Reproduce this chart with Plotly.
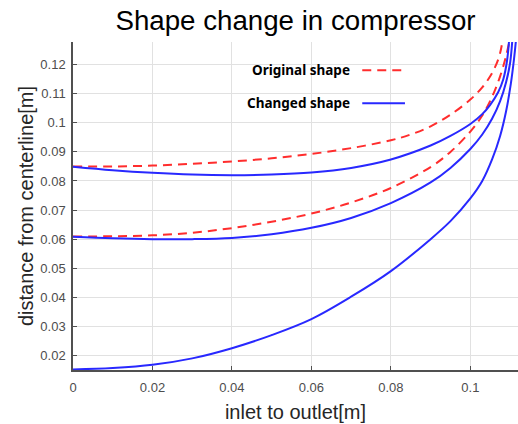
import plotly.graph_objects as go

# ---- data ----
orig_outer_x = [0, 0.01, 0.02, 0.03, 0.04, 0.05, 0.06, 0.07, 0.08, 0.085, 0.09, 0.095, 0.1, 0.103, 0.105, 0.1065, 0.1075, 0.1082]
orig_outer_y = [0.0850, 0.0850, 0.0853, 0.0859, 0.0867, 0.0878, 0.0893, 0.0913, 0.0940, 0.0960, 0.0988, 0.1028, 0.1080, 0.1122, 0.1160, 0.1200, 0.1240, 0.1290]

chg_outer_x = [0, 0.01, 0.02, 0.03, 0.04, 0.05, 0.06, 0.07, 0.08, 0.09, 0.095, 0.1, 0.103, 0.105, 0.107, 0.1083, 0.1092, 0.1098]
chg_outer_y = [0.0849, 0.0837, 0.0828, 0.0822, 0.0820, 0.0822, 0.0829, 0.0845, 0.0874, 0.0922, 0.0955, 0.0996, 0.1030, 0.1062, 0.1105, 0.1150, 0.1210, 0.1290]

orig_inner_x = [0, 0.01, 0.02, 0.03, 0.04, 0.05, 0.06, 0.07, 0.08, 0.09, 0.095, 0.1, 0.103, 0.1055, 0.1075, 0.109, 0.1100]
orig_inner_y = [0.0609, 0.0610, 0.0613, 0.0622, 0.0638, 0.0660, 0.0688, 0.0726, 0.0776, 0.0848, 0.0900, 0.0970, 0.1025, 0.1090, 0.1160, 0.1230, 0.1290]

chg_inner_x = [0, 0.01, 0.02, 0.03, 0.04, 0.05, 0.06, 0.07, 0.08, 0.09, 0.095, 0.1, 0.103, 0.1055, 0.1075, 0.109, 0.1100, 0.1106]
chg_inner_y = [0.0608, 0.0603, 0.0600, 0.0600, 0.0604, 0.0617, 0.0639, 0.0673, 0.0724, 0.0795, 0.0845, 0.0910, 0.0960, 0.1015, 0.1075, 0.1140, 0.1205, 0.1290]

chg_hub_x = [0, 0.01, 0.02, 0.03, 0.04, 0.05, 0.06, 0.07, 0.08, 0.09, 0.095, 0.1, 0.103, 0.1055, 0.1075, 0.109, 0.1102, 0.111, 0.1116]
chg_hub_y = [0.0152, 0.0157, 0.0168, 0.0190, 0.0225, 0.0270, 0.0325, 0.0402, 0.0490, 0.0600, 0.0662, 0.0740, 0.0800, 0.0875, 0.0955, 0.1040, 0.1135, 0.1220, 0.1300]

x_ticks = [0, 0.02, 0.04, 0.06, 0.08, 0.1]
y_ticks = [0.02, 0.03, 0.04, 0.05, 0.06, 0.07, 0.08, 0.09, 0.1, 0.11, 0.12]

RED = "rgb(255,45,45)"
BLUE = "rgb(40,40,255)"
FONT = "Liberation Sans, Arial, sans-serif"

fig = go.Figure()
red_line = dict(color=RED, width=2, dash="9px,6px", shape="spline")
blue_line = dict(color=BLUE, width=2, shape="spline")

fig.add_trace(go.Scatter(x=orig_outer_x, y=orig_outer_y, mode="lines", line=red_line,
                         name="Original shape", showlegend=False))
fig.add_trace(go.Scatter(x=orig_inner_x, y=orig_inner_y, mode="lines", line=red_line,
                         name="Original shape", showlegend=False))
fig.add_trace(go.Scatter(x=chg_outer_x, y=chg_outer_y, mode="lines", line=blue_line,
                         name="Changed shape", showlegend=False))
fig.add_trace(go.Scatter(x=chg_inner_x, y=chg_inner_y, mode="lines", line=blue_line,
                         name="Changed shape", showlegend=False))
fig.add_trace(go.Scatter(x=chg_hub_x, y=chg_hub_y, mode="lines", line=blue_line,
                         name="Changed shape", showlegend=False))

# manual legend (text left, line sample right, as in reference)
legend_items = [("Original shape", RED, "dash", 0.914), ("Changed shape", BLUE, "solid", 0.813)]
for label, col, dsh, yp in legend_items:
    fig.add_annotation(x=0.627, y=yp, xref="paper", yref="paper", text="<b>" + label + "</b>",
                       showarrow=False, xanchor="right", yanchor="middle",
                       font=dict(family="Noto Sans, sans-serif", size=13.5, color="black"))
    fig.add_shape(type="line", xref="paper", yref="paper", x0=0.650, x1=0.746, y0=yp, y1=yp,
                  line=dict(color=col, width=2, dash=("9px,6px" if dsh == "dash" else "solid")))

axis_common = dict(
    showgrid=True, gridcolor="rgb(225,225,225)", gridwidth=1,
    showline=True, linecolor="rgb(80,80,80)", linewidth=1.5,
    ticks="inside", ticklen=4, tickcolor="rgb(80,80,80)",
    tickfont=dict(family=FONT, size=13, color="rgb(77,77,77)"),
    zeroline=False, mirror=False, automargin=False,
)

W, H = 518, 424
fig.update_layout(
    width=W, height=H,
    margin=dict(l=73, r=0, t=42, b=54),
    paper_bgcolor="white", plot_bgcolor="white",
    title=dict(text="Shape change in compressor", x=0.5, xref="paper", xanchor="center",
               y=1 - 20 / H, yref="container", yanchor="middle",
               font=dict(family=FONT, size=27.7, color="black")),
    xaxis=dict(range=[0, 0.112], tickvals=x_ticks, ticktext=[str(v) for v in x_ticks],
               ticklabelstandoff=5,
               title=dict(text="inlet to outlet[m]", standoff=11,
                          font=dict(family=FONT, size=20, color="rgb(38,38,38)")),
               **axis_common),
    yaxis=dict(range=[0.015, 0.1278], tickvals=y_ticks, ticktext=[str(v) for v in y_ticks],
               ticklabelstandoff=3,
               title=dict(text="distance from centerline[m]", standoff=1,
                          font=dict(family=FONT, size=20, color="rgb(38,38,38)")),
               **axis_common),
    showlegend=False,
)

# remove the default page margin so the figure fills the window exactly
fig.write_html("out.html",
               config={"displayModeBar": False},
               post_script="document.body.style.margin='0px';document.body.style.overflow='hidden';")
